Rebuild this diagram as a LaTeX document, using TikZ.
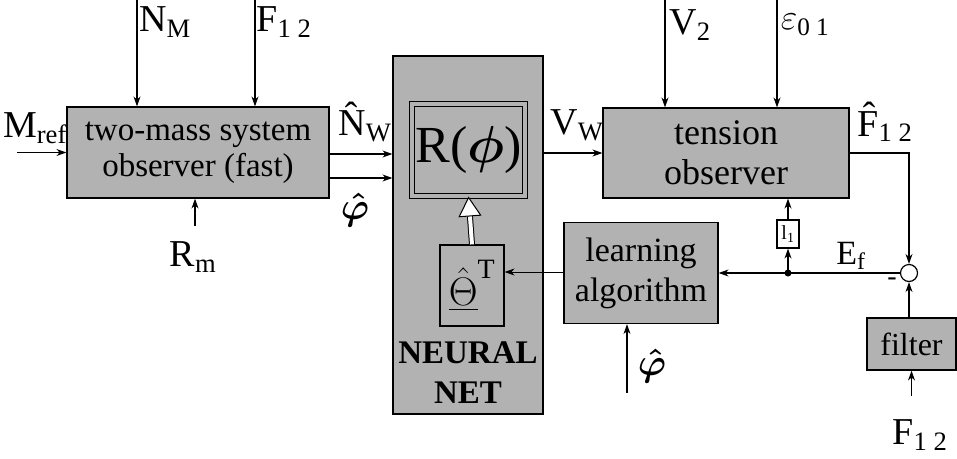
\RequirePackage{fix-cm}
\documentclass[tikz,border=0pt]{standalone}
\usepackage{amsmath}
\usepackage{fontspec}
\setmainfont{Liberation Serif}
\usetikzlibrary{arrows.meta}

\tikzset{
    blk/.style={draw, fill=black!30, line width=1.2pt, align=center, inner sep=0pt},
    lbl/.style={font=\fontsize{38}{40}\selectfont, inner sep=0pt},
    sig/.style={line width=1.2pt, -{Stealth[length=10pt, width=7pt]}}
}

\begin{document}
\begin{tikzpicture}[x=1pt, y=-1pt]
    \useasboundingbox (0, 0) rectangle (957, 458);

    % Blocks
    \node[blk, minimum width=262, minimum height=91, font=\fontsize{33}{36}\selectfont] (twomass) at (198, 152.5) {two-mass system\\observer (fast)};
    \node[blk, minimum width=150, minimum height=358] (net) at (468, 235) {};
    \node[blk, minimum width=113, minimum height=92, double=black!30, double distance=4pt, line width=1pt, font=\fontsize{52}{56}\selectfont] (rphi) at (468.5, 150) {R($\boldsymbol{\phi}$)};
    \node[blk, minimum width=64, minimum height=81, font=\fontsize{40}{44}\selectfont] (theta) at (472, 285.5) {$\underline{\hat{\Theta}}^{\mathrm{T}}$};
    \node[inner sep=0pt, align=center, font=\fontsize{33}{40}\selectfont\bfseries] (netname) at (468, 373) {NEURAL\\NET};
    \node[blk, minimum width=246, minimum height=90, font=\fontsize{36}{40}\selectfont] (tension) at (726, 153) {tension\\observer};
    \node[blk, minimum width=154, minimum height=101, font=\fontsize{34}{40}\selectfont] (learn) at (641, 273) {learning\\algorithm};
    \node[blk, minimum width=89, minimum height=52, font=\fontsize{32}{36}\selectfont] (filter) at (911.5, 344) {filter};
    \node[draw, fill=white, line width=1.2pt, minimum width=22, minimum height=28, inner sep=0pt, font=\fontsize{20}{22}\selectfont] (lone) at (788, 234) {l\textsubscript{1}};
    \node[draw, fill=white, line width=1.2pt, circle, minimum size=17, inner sep=0pt] (sum) at (909, 273) {};
    \coordinate (dot) at (788, 273);
    \fill (dot) circle (3.5);

    % Inputs
    \coordinate (nmin) at (137, 0);
    \coordinate (ftop) at (255, 0);
    \coordinate (mref) at (17, 152.5);
    \coordinate (rmin) at (195, 226);
    \coordinate (vtwo) at (665, 0);
    \coordinate (epsin) at (777, 0);
    \coordinate (phin) at (627, 393);
    \coordinate (fbot) at (911.5, 396);
    \draw[sig] (nmin) -- (nmin |- twomass.north);
    \draw[sig] (ftop) -- (ftop |- twomass.north);
    \draw[sig] (mref) -- (twomass.west);
    \draw[sig] (rmin) -- (rmin |- twomass.south);
    \draw[sig] (vtwo) -- (vtwo |- tension.north);
    \draw[sig] (epsin) -- (epsin |- tension.north);
    \draw[sig] (phin) -- (phin |- learn.south);
    \draw[sig] (fbot) -- (filter.south);

    % Connections
    \draw[sig] (twomass.east |- 0, 154) -- (net.west |- 0, 154);
    \draw[sig] (twomass.east |- 0, 178) -- (net.west |- 0, 178);
    \draw[sig] (net.east |- tension.west) -- (tension.west);
    \draw[sig] (tension.east) -| (sum.north);
    \draw[sig] (sum |- filter.north) -- (sum.south);
    \draw[sig] (sum.west) -- (learn.east);
    \draw[sig] (dot) -- (lone.south);
    \draw[sig] (lone.north) -- (lone.north |- tension.south);
    \draw[sig, line width=0.8pt] (learn.west |- 0, 272) -- (theta.east |- 0, 272);
    \draw[line width=1pt, double=white, double distance=4pt, -{Triangle[length=20pt, width=23pt, fill=white, line width=1pt]}] (theta.north) -- (rphi.south);

    % Labels
    \node[lbl] at (35, 128) {M\textsubscript{ref}};
    \node[lbl] at (165, 22) {N\textsubscript{M}};
    \node[lbl] at (284, 22) {F\textsubscript{1 2}};
    \node[lbl] at (193, 257) {R\textsubscript{m}};
    \node[lbl] at (365, 122) {\^{N}\textsubscript{W}};
    \node[lbl] at (355, 210) {$\boldsymbol{\hat{\varphi}}$};
    \node[lbl] at (577, 125) {V\textsubscript{W}};
    \node[lbl] at (690, 25) {V\textsubscript{2}};
    \node[lbl, font=\fontsize{36}{38}\selectfont] at (805, 25) {$\varepsilon$\textsubscript{0 1}};
    \node[lbl] at (885, 122) {\^{F}\textsubscript{1 2}};
    \node[lbl, font=\fontsize{34}{36}\selectfont] at (851, 256) {E\textsubscript{f}};
    \node[lbl, font=\fontsize{28}{30}\selectfont] at (892, 282) {-};
    \node[lbl] at (652, 366) {$\boldsymbol{\hat{\varphi}}$};
    \node[lbl] at (920, 435) {F\textsubscript{1 2}};
\end{tikzpicture}
\end{document}
